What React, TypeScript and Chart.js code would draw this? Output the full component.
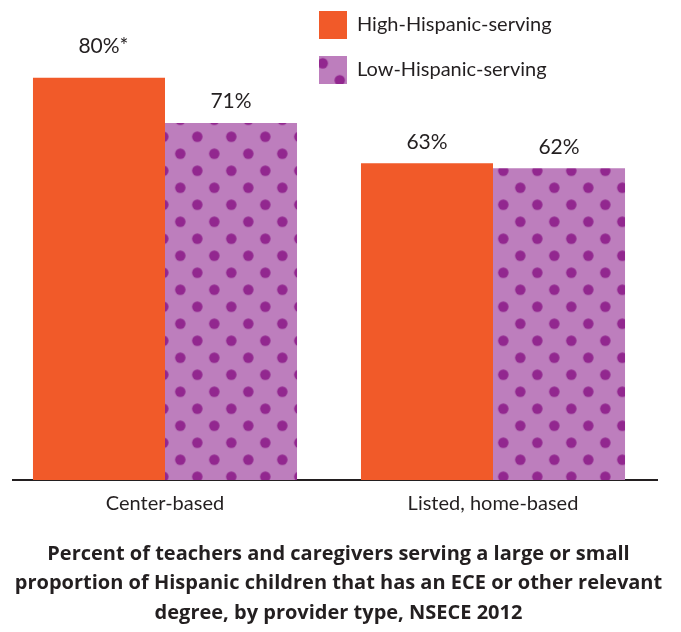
import React, { useEffect, useRef } from "react";
import { Chart, registerables } from "chart.js";

Chart.register(...registerables);

// ---- data ----
const categories = ["Center-based", "Listed, home-based"];
const seriesNames = ["High-Hispanic-serving", "Low-Hispanic-serving"];
const highValues = [80, 63];
const lowValues = [71, 62];
const highLabels = ["80%*", "63%"];
const lowLabels = ["71%", "62%"];
const titleLines = [
  "Percent of teachers and caregivers serving a large or small",
  "proportion of Hispanic children that has an ECE or other relevant",
  "degree, by provider type, NSECE 2012",
];

// ---- styles ----
const ORANGE = "#F15A29";
const PURPLE = "#BD7EBD";
const DOT = "#92278F";
const INK = "#231F20";

function makeDotPattern(ctx: CanvasRenderingContext2D, tx: number, ty: number) {
  const tile = document.createElement("canvas");
  tile.width = 34;
  tile.height = 34;
  const t = tile.getContext("2d")!;
  t.fillStyle = PURPLE;
  t.fillRect(0, 0, 34, 34);
  t.fillStyle = DOT;
  for (const [cx, cy] of [
    [8.5, 8.5],
    [25.5, 25.5],
  ]) {
    t.beginPath();
    t.arc(cx, cy, 5.2, 0, Math.PI * 2);
    t.fill();
  }
  const p = ctx.createPattern(tile, "repeat")!;
  p.setTransform(new DOMMatrix([1, 0, 0, 1, tx, ty]));
  return p;
}

export default function App() {
  const ref = useRef<HTMLCanvasElement>(null);

  useEffect(() => {
    const canvas = ref.current!;
    const ctx = canvas.getContext("2d")!;
    const barPattern = makeDotPattern(ctx, 18.8, -7.8);
    const legendPattern = makeDotPattern(ctx, 8.2, 20.8);
    const labelSets = [highLabels, lowLabels];

    const valueLabelPlugin = {
      id: "valueLabels",
      afterDatasetsDraw(chart: any) {
        const c = chart.ctx;
        c.save();
        c.font = '21px "Lato"';
        c.fillStyle = INK;
        c.textBaseline = "alphabetic";
        c.textAlign = "left";
        chart.data.datasets.forEach((_ds: any, di: number) => {
          const meta = chart.getDatasetMeta(di);
          meta.data.forEach((el: any, i: number) => {
            const text = labelSets[di][i];
            const star = text.endsWith("*");
            const core = star ? text.slice(0, -1) : text;
            const w = c.measureText(core).width;
            c.fillText(text, el.x - w / 2, el.y - 14.5 - (star ? 10.5 : 0));
          });
        });
        c.restore();
      },
    };

    const placePlugin = {
      id: "placeBlocks",
      afterLayout(chart: any) {
        const lg = chart.legend;
        if (lg) {
          lg.left = 302;
          lg.right = 302 + 300;
          lg.top = -6;
          lg.bottom = 300;
        }
        const tb = chart.titleBlock;
        if (tb) {
          tb.left = 0;
          tb.right = 677;
        }
      },
    };

    const chart = new Chart(canvas, {
      type: "bar",
      data: {
        datasets: [
          {
            label: seriesNames[0],
            data: highValues.map((v, i) => ({ x: i, y: v })),
            backgroundColor: ORANGE,
            borderWidth: 0,
          },
          {
            label: seriesNames[1],
            data: lowValues.map((v, i) => ({ x: i, y: v })),
            backgroundColor: barPattern,
            borderWidth: 0,
          },
        ],
      },
      options: {
        responsive: false,
        animation: false,
        devicePixelRatio: 1,
        layout: { padding: { top: 27.4, left: 13, right: 24, bottom: 0 } },
        datasets: {
          bar: { categoryPercentage: 0.805, barPercentage: 1 },
        },
        scales: {
          x: {
            type: "linear",
            min: -0.4634,
            max: 1.5,
            offset: false,
            grid: { display: false, offset: false, drawTicks: false, tickLength: 0 },
            border: { display: true, color: INK, width: 2 },
            afterBuildTicks: (scale: any) => {
              scale.ticks = categories.map((_c, i) => ({ value: i }));
            },
            ticks: {
              autoSkip: false,
              maxRotation: 0,
              padding: 12,
              color: INK,
              font: { family: "Lato", size: 20 },
              callback: (v: any) => categories[Math.round(Number(v))],
            },
          },
          y: {
            display: false,
            min: 0,
            max: 90,
          },
        },
        plugins: {
          tooltip: { enabled: false },
          legend: {
            display: true,
            position: "chartArea",
            align: "start",
            labels: {
              boxWidth: 28,
              boxHeight: 28,
              padding: 17,
              color: INK,
              font: { family: "Lato", size: 20 },
              generateLabels: (ch: any) => {
                const items = (Chart.defaults.plugins.legend.labels as any).generateLabels(ch);
                if (items[1]) items[1].fillStyle = legendPattern;
                return items;
              },
            },
          },
          title: {
            display: true,
            position: "bottom",
            text: titleLines,
            color: INK,
            font: { family: "Open Sans", size: 20, weight: "bold", lineHeight: 1.475 },
            padding: { top: 11.25, bottom: 4.25 },
          },
        },
      } as any,
      plugins: [valueLabelPlugin, placePlugin],
    });

    return () => chart.destroy();
  }, []);

  return (
    <div style={{ position: "absolute", left: 0, top: 0, width: 681, height: 632 }}>
      <canvas ref={ref} width={681} height={632} style={{ display: "block" }} />
    </div>
  );
}
